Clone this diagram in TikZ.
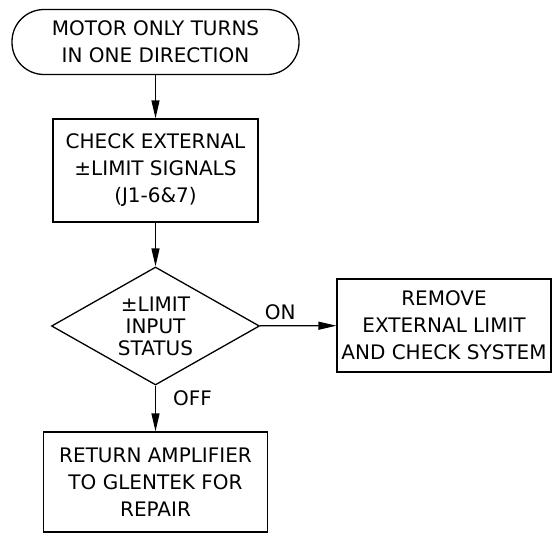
\documentclass[tikz,border=0pt]{standalone}
\usepackage{fontspec}
\newfontfamily\cadfont{DejaVu Sans}
\usepackage{tikz}
\usetikzlibrary{positioning,arrows.meta}
\usetikzlibrary{shapes.geometric}
\tikzset{
  fcnode/.style = {align=center, inner sep=0pt, text centered,
    font=\cadfont\fontsize{20}{27}\selectfont, draw=black, line width=1.3pt},
  fc_term/.style = {fcnode, rectangle, rounded corners=32pt,
    minimum width=287pt, minimum height=65pt},% debut
  fc_box/.style = {fcnode, rectangle,
    minimum width=#1, minimum height=100pt},
  fc_dec/.style = {fcnode, diamond, aspect=1.76,
    font=\cadfont\fontsize{20}{22}\selectfont,
    minimum width=208pt, minimum height=118pt},% decision
  fc_lbl/.style = {inner sep=0pt, anchor=base west,
    font=\cadfont\fontsize{20}{22}\selectfont},
  fc_arr/.style = {-{Triangle[length=18pt,width=8pt]}, line width=1.3pt}
}

\begin{document}
\begin{tikzpicture}[x=1pt,y=-1pt]
\useasboundingbox (0,0) rectangle (553,533);
\node [fc_term] (start) at (155.5,42) {MOTOR ONLY TURNS\\IN ONE DIRECTION};
\node [fc_box=205pt, minimum height=103pt] (check) at (155.5,170.5)
    {CHECK EXTERNAL\\±LIMIT SIGNALS\\(J1-6\&7)};
\node [fc_dec] (status) at (155.5,326) {±LIMIT\\INPUT\\STATUS};
\node [fc_box=214pt, minimum height=93pt] (remove) at (444,325.5)
    {REMOVE\\EXTERNAL LIMIT\\AND CHECK SYSTEM};
\node [fc_box=224pt] (ret) at (155.5,482)
    {RETURN AMPLIFIER\\TO GLENTEK FOR\\REPAIR};
\draw [fc_arr] (start) -- (check);
\draw [fc_arr] (check) -- (status);
\draw [fc_arr] (status) -- (remove)
    node [fc_lbl] at ([shift={(4,-7)}]status.east) {ON};
\draw [fc_arr] (status) -- (ret)
    node [fc_lbl] at ([shift={(17,20)}]status.south) {OFF};
\end{tikzpicture}
\end{document}
